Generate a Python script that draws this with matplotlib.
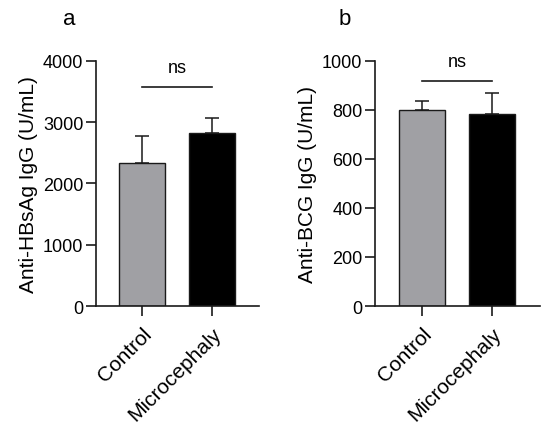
import numpy as np
import matplotlib
matplotlib.use('Agg')
import matplotlib.pyplot as plt

plt.rcParams['font.family'] = ['Liberation Sans', 'DejaVu Sans']

groups = ['Control', 'Microcephaly']
hbsag_mean = [2340, 2820]
hbsag_err = [440, 255]
bcg_mean = [801, 784]
bcg_err = [37, 87]
bar_colors = ['#a0a0a4', '#000000']

fig = plt.figure(figsize=(5.5, 4.27), dpi=100)
ax1 = fig.add_axes([0.1745, 0.281, 0.296, 0.574])
ax2 = fig.add_axes([0.6818, 0.281, 0.300, 0.574])

panels = [
    (ax1, hbsag_mean, hbsag_err, 'Anti-HBsAg IgG (U/mL)', 4000, 1000, 3575, (-0.657, 1.671), 'a'),
    (ax2, bcg_mean, bcg_err, 'Anti-BCG IgG (U/mL)', 1000, 200, 918, (-0.671, 1.686), 'b'),
]

for ax, mean, err, ylabel, ymax, step, ns_y, xlim, letter in panels:
    x = np.arange(len(groups))
    ax.bar(x, mean, width=0.66, color=bar_colors, edgecolor='#1a1a1a', linewidth=1.0,
           zorder=2)
    ax.errorbar(x, mean, yerr=[np.zeros(len(err)), err], fmt='none', ecolor='#1a1a1a',
                elinewidth=1.1, capsize=5, capthick=1.1, zorder=1)
    ax.set_xlim(*xlim)
    ax.set_ylim(0, ymax)
    ax.set_yticks(np.arange(0, ymax + 1, step))
    ax.set_xticks(x)
    ax.set_xticklabels(groups, rotation=45, ha='right', rotation_mode='anchor')
    ax.spines['top'].set_visible(False)
    ax.spines['right'].set_visible(False)
    for s in ['left', 'bottom']:
        ax.spines[s].set_linewidth(1.2)
        ax.spines[s].set_color('#1a1a1a')
    ax.tick_params(axis='both', length=7, width=1.2, color='#1a1a1a', pad=2)
    ax.tick_params(axis='y', labelsize=13)
    ax.tick_params(axis='x', labelsize=15, pad=6)
    ax.set_ylabel(ylabel, fontsize=15, labelpad=4)
    # significance line
    ax.plot([x[0], x[1]], [ns_y, ns_y], color='#1a1a1a', linewidth=1.2, clip_on=False)
    ax.text((x[0] + x[1]) / 2, ns_y + ymax * 0.045, 'ns', ha='center', va='bottom', fontsize=13)
    ax.text(-0.2 if letter == 'a' else -0.22, 1.13, letter, transform=ax.transAxes,
            fontsize=16, ha='left', va='bottom')

fig.savefig('out.png', dpi=100)
